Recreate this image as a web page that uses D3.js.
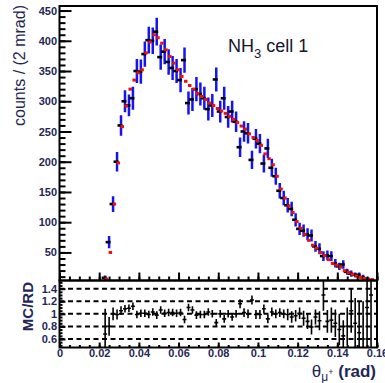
<!DOCTYPE html>
<html>
<head>
<meta charset="utf-8">
<script src="https://cdn.jsdelivr.net/npm/d3@7"></script>
<style>
  body { margin: 0; background: #fff; }
  svg { display: block; }
</style>
</head>
<body>
<figure id="plot" style="margin:0"></figure>
<script>
// 2 mrad bins, first bin centred at 0.023 rad
const binStart = 0.023;
const binWidth = 0.002;

// real data (RD) counts per bin and their errors
const rdCounts = [8, 67, 130, 200, 260, 300, 293, 305, 350, 349,
  378, 401, 400, 415, 373, 382, 365, 355, 350, 335,
  368, 297, 303, 320, 312, 305, 287, 293, 336, 283,
  305, 274, 283, 266, 224, 250, 247, 203, 238, 230,
  197, 222, 190, 176, 152, 140, 128, 122, 104, 89,
  86, 80, 78, 60, 56, 44, 45, 44, 32, 27,
  30, 18, 15, 13, 13, 9, 6, 4];
const rdErrors = [4, 10, 13, 16, 17, 18, 18, 19, 20, 20,
  21, 22, 22, 23, 21, 21, 21, 20, 20, 20,
  21, 19, 19, 20, 19, 19, 19, 19, 20, 18,
  19, 18, 18, 17, 16, 17, 17, 15, 16, 16,
  15, 16, 15, 14, 13, 12, 12, 12, 11, 10,
  10, 10, 10, 9, 9, 8, 8, 8, 7, 6,
  7, 5, 5, 4, 4, 4, 3, 3];
// Monte Carlo counts per bin
const mcCounts = [6, 50, 130, 198, 258, 292, 320, 335, 347, 352,
  380, 398, 410, 405, 396, 385, 374, 363, 352, 341,
  333, 326, 320, 313, 308, 303, 297, 293, 288, 284,
  280, 275, 270, 265, 259, 254, 246, 240, 235, 227,
  213, 205, 195, 176, 155, 140, 127, 116, 101, 90,
  80, 70, 62, 57, 50, 45, 38, 32, 29, 26,
  20, 17, 14, 11, 9, 7, 6, 5];
// MC/RD ratio per bin and its error
const ratio = [0.68, 0.80, 1.00, 0.99, 1.05, 1.08, 1.09, 1.12, 0.99, 1.01,
  1.01, 0.99, 1.03, 0.98, 1.06, 1.01, 1.02, 1.02, 1.01, 1.02,
  0.91, 1.10, 1.06, 0.98, 0.99, 0.99, 1.03, 1.00, 0.86, 1.00,
  0.92, 1.00, 0.95, 1.00, 1.16, 1.02, 1.00, 1.22, 0.99, 0.99,
  1.08, 0.92, 1.03, 1.00, 1.02, 1.00, 0.99, 0.95, 0.97, 1.01,
  0.93, 0.88, 0.79, 0.95, 0.89, 1.30, 0.88, 0.90, 0.85, 0.75,
  0.65, 0.80, 1.05, 0.85, 0.70, 0.60, 1.10, 1.30];
const ratioErr = [0.40, 0.15, 0.10, 0.08, 0.07, 0.06, 0.06, 0.06, 0.06, 0.06,
  0.06, 0.06, 0.06, 0.06, 0.06, 0.06, 0.06, 0.06, 0.06, 0.06,
  0.06, 0.06, 0.06, 0.06, 0.06, 0.06, 0.06, 0.06, 0.06, 0.06,
  0.06, 0.06, 0.06, 0.06, 0.07, 0.07, 0.07, 0.07, 0.07, 0.07,
  0.07, 0.07, 0.07, 0.07, 0.07, 0.07, 0.09, 0.09, 0.09, 0.09,
  0.12, 0.12, 0.12, 0.12, 0.15, 0.25, 0.18, 0.20, 0.22, 0.25,
  0.25, 0.30, 0.35, 0.40, 0.50, 0.60, 1.00, 1.20];

const xTicks = [0, 0.02, 0.04, 0.06, 0.08, 0.1, 0.12, 0.14, 0.16];
const xTickLabels = ["0", "0.02", "0.04", "0.06", "0.08", "0.1", "0.12", "0.14", "0.16"];
const yTicks = [50, 100, 150, 200, 250, 300, 350, 400, 450];
const ratioTicks = [0.6, 0.8, 1, 1.2, 1.4];
const ratioTickLabels = ["0.6", "0.8", "1", "1.2", "1.4"];

const width = 385, height = 383;
const padL = 59.5, padR = 377, padT = 6, padMid = 280.5, padB = 347.5;
const labelColor = "#1f2757";
const font = "'Liberation Sans', Arial, Helvetica, sans-serif";

const bins = rdCounts.map((d, i) => ({
  c: binStart + i * binWidth, rd: d, err: rdErrors[i], mc: mcCounts[i],
  r: ratio[i], rErr: ratioErr[i]
}));

const x = d3.scaleLinear().domain([0, 0.16]).range([padL, padR]);
const y = d3.scaleLinear().domain([3.6, 457.5]).range([padMid, padT]);
const yr = d3.scaleLinear().domain([0.465, 1.53]).range([padB, padMid]);

const svg = d3.select("#plot").append("svg")
  .attr("width", width).attr("height", height)
  .style("font-family", font);

const defs = svg.append("defs");
defs.append("clipPath").attr("id", "clipTop").append("rect")
  .attr("x", padL).attr("y", padT).attr("width", padR - padL).attr("height", padMid - padT);
defs.append("clipPath").attr("id", "clipBot").append("rect")
  .attr("x", padL).attr("y", padMid).attr("width", padR - padL).attr("height", padB - padMid);

// ---- upper pad ----
const topG = svg.append("g").attr("clip-path", "url(#clipTop)");

topG.selectAll(".err").data(bins).enter().append("line")
  .attr("x1", d => x(d.c)).attr("x2", d => x(d.c))
  .attr("y1", d => y(d.rd - d.err)).attr("y2", d => y(d.rd + d.err))
  .attr("stroke", "#1414f0").attr("stroke-width", 2.5);

topG.selectAll(".rd").data(bins).enter().append("rect")
  .attr("x", d => x(d.c) - 3.5).attr("y", d => y(d.rd) - 1.3)
  .attr("width", 5).attr("height", 2.6)
  .attr("fill", "#000");

topG.selectAll(".mc").data(bins).enter().append("rect")
  .attr("x", d => x(d.c) - 0.5).attr("y", d => y(d.mc) - 1.5)
  .attr("width", 3.5).attr("height", 3)
  .attr("fill", "#ee1010");

// ---- lower pad ----
const botG = svg.append("g").attr("clip-path", "url(#clipBot)");

botG.selectAll(".grid").data(ratioTicks).enter().append("line")
  .attr("x1", padL).attr("x2", padR)
  .attr("y1", d => yr(d)).attr("y2", d => yr(d))
  .attr("stroke", "#000").attr("stroke-width", 2)
  .attr("stroke-dasharray", "5,3.5");

botG.selectAll(".rv").data(bins).enter().append("line")
  .attr("x1", d => x(d.c)).attr("x2", d => x(d.c))
  .attr("y1", d => yr(d.r - d.rErr)).attr("y2", d => yr(d.r + d.rErr))
  .attr("stroke", "#000").attr("stroke-width", 1.6);

botG.selectAll(".rh").data(bins).enter().append("line")
  .attr("x1", d => x(d.c - binWidth / 2)).attr("x2", d => x(d.c + binWidth / 2))
  .attr("y1", d => yr(d.r)).attr("y2", d => yr(d.r))
  .attr("stroke", "#000").attr("stroke-width", 1.6);

// ---- axes ----
function styleAxis(g) {
  g.select(".domain").remove();
  g.selectAll(".tick line").attr("stroke", "#000").attr("stroke-width", 2);
  g.selectAll("text").attr("fill", labelColor)
    .style("font-family", font).style("font-size", "11px").style("font-weight", "bold");
}

// upper y
svg.append("g").attr("transform", `translate(${padL},0)`)
  .call(d3.axisLeft(y).tickValues(d3.range(10, 451, 10)).tickSize(-6).tickFormat(""))
  .call(styleAxis);
svg.append("g").attr("transform", `translate(${padL},0)`)
  .call(d3.axisLeft(y).tickValues(yTicks).tickSize(-12).tickPadding(2.5))
  .call(styleAxis);

// upper x (ticks only)
svg.append("g").attr("transform", `translate(0,${padMid})`)
  .call(d3.axisBottom(x).tickValues(d3.range(0, 0.1601, 0.005)).tickSize(-4).tickFormat(""))
  .call(styleAxis);
svg.append("g").attr("transform", `translate(0,${padMid})`)
  .call(d3.axisBottom(x).tickValues(xTicks).tickSize(-8).tickFormat(""))
  .call(styleAxis);

// lower y
svg.append("g").attr("transform", `translate(${padL},0)`)
  .call(d3.axisLeft(yr).tickValues(d3.range(0.5, 1.51, 0.05)).tickSize(-3).tickFormat(""))
  .call(styleAxis);
svg.append("g").attr("transform", `translate(${padL},0)`)
  .call(d3.axisLeft(yr).tickValues(ratioTicks).tickSize(-6).tickPadding(2.5)
    .tickFormat((d, i) => ratioTickLabels[i]))
  .call(styleAxis);

// lower x
svg.append("g").attr("transform", `translate(0,${padB})`)
  .call(d3.axisBottom(x).tickValues(d3.range(0, 0.1601, 0.005)).tickSize(-2.5).tickFormat(""))
  .call(styleAxis);
svg.append("g").attr("transform", `translate(0,${padB})`)
  .call(d3.axisBottom(x).tickValues(xTicks).tickSize(-5).tickPadding(1.5)
    .tickFormat((d, i) => xTickLabels[i]))
  .call(styleAxis);

// frames
svg.append("rect").attr("x", padL).attr("y", padT).attr("width", padR - padL).attr("height", padMid - padT)
  .attr("fill", "none").attr("stroke", "#000").attr("stroke-width", 2);
svg.append("rect").attr("x", padL).attr("y", padMid).attr("width", padR - padL).attr("height", padB - padMid)
  .attr("fill", "none").attr("stroke", "#000").attr("stroke-width", 2);

// ---- titles ----
svg.append("text")
  .attr("transform", "translate(25,5) rotate(-90)")
  .attr("text-anchor", "end").attr("fill", labelColor)
  .style("font-size", "16px")
  .text("counts / (2 mrad)");

svg.append("text")
  .attr("transform", "translate(33,282) rotate(-90)")
  .attr("text-anchor", "end").attr("fill", labelColor)
  .style("font-size", "15px").style("font-weight", "bold")
  .text("MC/RD");

const nh3 = svg.append("text").attr("x", 228).attr("y", 52)
  .attr("fill", "#15152e").style("font-size", "18px");
nh3.append("tspan").text("NH");
nh3.append("tspan").attr("dy", 6).style("font-size", "13px").text("3");
nh3.append("tspan").attr("dy", -6).text(" cell 1");

const xt = svg.append("text").attr("x", 376).attr("y", 377)
  .attr("text-anchor", "end").attr("fill", labelColor)
  .style("font-size", "17px");
xt.append("tspan").text("θ");
xt.append("tspan").attr("dy", 4).style("font-size", "12px").text("μ");
xt.append("tspan").attr("dy", -6).style("font-size", "9px").text("+");
xt.append("tspan").attr("dy", 2).style("font-weight", "bold").text(" (rad)");
</script>
</body>
</html>
